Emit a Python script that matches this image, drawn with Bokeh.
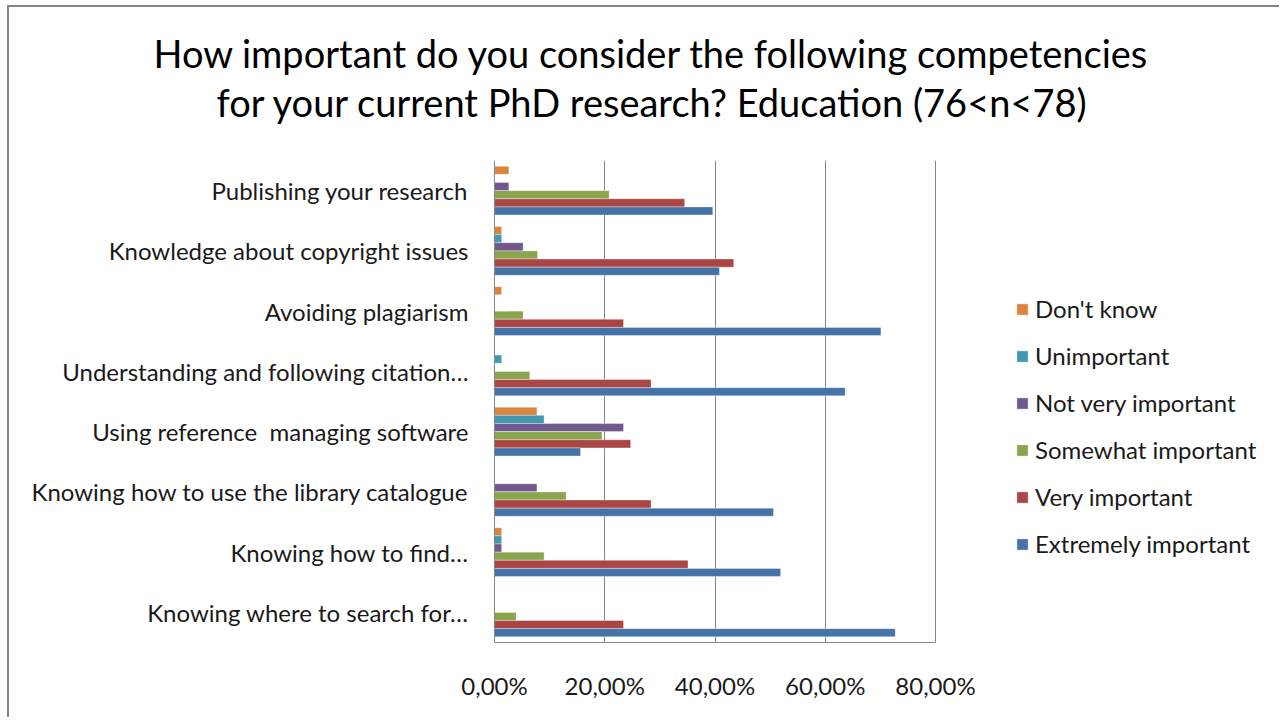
from bokeh.plotting import figure
from bokeh.models import FactorRange, Range1d, FixedTicker, Legend, LegendItem, Title, ColumnDataSource
from bokeh.transform import dodge
from bokeh.embed import file_html
from bokeh.resources import INLINE

categories = [
    "Publishing your research",
    "Knowledge about copyright issues",
    "Avoiding plagiarism",
    "Understanding and following citation…",
    "Using reference\u00a0 managing software",
    "Knowing how to use the library catalogue",
    "Knowing how to find…",
    "Knowing where to search for…",
]
series_names = ["Don't know", "Unimportant", "Not very important",
                "Somewhat important", "Very important", "Extremely important"]
colors = ["#DB843D", "#4198AF", "#71588F", "#89A54E", "#AA4643", "#4572A7"]

dont_know = [2.6, 1.3, 1.3, 0.0, 7.7, 0.0, 1.3, 0.0]
unimportant = [0.0, 1.3, 0.0, 1.3, 9.0, 0.0, 1.3, 0.0]
not_very_important = [2.6, 5.2, 0.0, 0.0, 23.4, 7.7, 1.3, 0.0]
somewhat_important = [20.8, 7.8, 5.2, 6.4, 19.5, 13.0, 9.0, 3.9]
very_important = [34.5, 43.4, 23.4, 28.4, 24.7, 28.4, 35.1, 23.4]
extremely_important = [39.6, 40.8, 70.1, 63.6, 15.6, 50.6, 51.9, 72.7]
series_values = [dont_know, unimportant, not_very_important,
                 somewhat_important, very_important, extremely_important]

x_ticks = [0, 20, 40, 60, 80]
x_tick_labels = ["0,00%", "20,00%", "40,00%", "60,00%", "80,00%"]

title_line1 = "How important do you consider the following competencies"
title_line2 = "for your current PhD research? Education (76<n<78)"

FONT = "Lato"
TXT = "#1a1a1a"

# layout (pixels)
W, H = 1272, 712
LEFT, TOP, BOTTOM = 485, 153, 77
AXIS_PX = 441                      # pixels spanned by 0..80 on the value axis
frame_w = W - LEFT
x_end = x_ticks[-1] * frame_w / AXIS_PX   # extra room on the right holds the legend

p = figure(
    width=W, height=H,
    y_range=FactorRange(factors=list(reversed(categories))),
    x_range=Range1d(0, x_end),
    output_backend="svg", toolbar_location=None,
    min_border_left=LEFT, min_border_right=0,
    min_border_top=TOP, min_border_bottom=BOTTOM,
)
p.styles = {"border-left": "2px solid #868686", "border-top": "2px solid #868686",
            "margin-left": "7px", "margin-top": "5px"}

t2 = Title(text=title_line2, align="left", offset=-278, text_font=FONT,
           text_font_size="38px", text_font_style="normal", text_color="#000000",
           standoff=72)
t1 = Title(text=title_line1, align="left", offset=-341, text_font=FONT,
           text_font_size="38px", text_font_style="normal", text_color="#000000",
           standoff=-71)
p.add_layout(t2, "above")
p.add_layout(t1, "above")

bar_h = 0.135
items = []
for i, (name, vals, col) in enumerate(zip(series_names, series_values, colors)):
    src = ColumnDataSource(dict(cat=categories, val=vals))
    off = (2.5 - i) * bar_h
    r = p.hbar(y=dodge("cat", off, range=p.y_range), left=0, right="val",
               height=bar_h, source=src, fill_color=col,
               line_color="white", line_alpha=0.35, line_width=1)
    items.append(LegendItem(label=name, renderers=[r]))

legend = Legend(items=items, location=(521, 84), orientation="vertical",
                label_text_font=FONT, label_text_font_size="24px",
                label_text_color=TXT, glyph_width=14, glyph_height=14,
                label_height=24, spacing=18, label_standoff=6,
                padding=0, margin=0, border_line_color=None,
                background_fill_alpha=0)
p.add_layout(legend, "center")

p.xaxis.ticker = FixedTicker(ticks=x_ticks)
p.xaxis.bounds = (x_ticks[0], x_ticks[-1])
p.xaxis.major_label_overrides = {k: v for k, v in zip(x_ticks, x_tick_labels)}
p.xaxis.major_label_text_font = FONT
p.xaxis.major_label_text_font_size = "24px"
p.xaxis.major_label_text_color = TXT
p.xaxis.major_label_standoff = 22
p.xaxis.major_tick_line_color = None
p.xaxis.minor_tick_line_color = None
p.xaxis.axis_line_color = "#868686"

p.yaxis.major_label_text_font = FONT
p.yaxis.major_label_text_font_size = "24px"
p.yaxis.major_label_text_color = TXT
p.yaxis.major_label_standoff = 20
p.yaxis.major_tick_line_color = None
p.yaxis.minor_tick_line_color = None
p.yaxis.axis_line_color = "#868686"

p.xgrid.grid_line_color = "#868686"
p.xgrid.ticker = FixedTicker(ticks=x_ticks)
p.ygrid.grid_line_color = None
p.outline_line_color = None
p.background_fill_color = "white"
p.border_fill_color = "white"

open("out.html", "w").write(file_html(p, INLINE))
